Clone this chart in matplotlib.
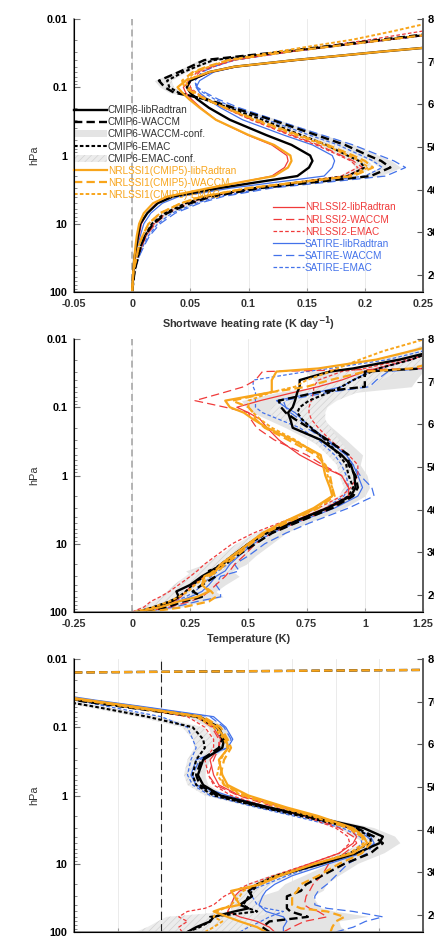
import numpy as np
import matplotlib
matplotlib.use("Agg")
import matplotlib.pyplot as plt
from matplotlib.lines import Line2D
from matplotlib.patches import Patch

plt.rcParams['font.family'] = ['Liberation Sans', 'DejaVu Sans']
plt.rcParams['lines.scale_dashes'] = False
plt.rcParams['hatch.linewidth'] = 0.5

# ---------------- panel 1: shortwave heating rate (K/day) ----------------
p1_levels = [100, 50, 30, 20, 15, 10, 7, 5, 4, 3, 2, 1.5, 1.2, 1, 0.7, 0.5, 0.3, 0.2, 0.15, 0.12,
             0.1, 0.08, 0.06, 0.05, 0.04, 0.03, 0.02, 0.015, 0.01]
p1_cmip6_lib = [0, 0.001, 0.002, 0.004, 0.005, 0.007, 0.013, 0.022, 0.035, 0.075, 0.142, 0.152, 0.155, 0.153,
                0.137, 0.115, 0.084, 0.066, 0.056, 0.05, 0.047, 0.05, 0.066, 0.088, 0.14, 0.215, 0.33, 0.4, 0.5]
p1_cmip6_waccm = [0, 0.002, 0.005, 0.008, 0.011, 0.018, 0.03, 0.05, 0.068, 0.11, 0.205, 0.222, 0.214, 0.203,
                  0.183, 0.158, 0.12, 0.087, 0.064, 0.036, 0.028, 0.023, 0.04, 0.05, 0.062, 0.13, 0.215, 0.275, 0.36]
p1_cmip6_emac = [0, 0.002, 0.005, 0.008, 0.011, 0.017, 0.028, 0.046, 0.064, 0.105, 0.185, 0.2, 0.195, 0.185,
                 0.167, 0.145, 0.112, 0.083, 0.062, 0.04, 0.032, 0.03, 0.044, 0.055, 0.07, 0.133, 0.22, 0.28, 0.37]
p1_nrl1_lib = [0, 0.001, 0.002, 0.003, 0.004, 0.006, 0.01, 0.018, 0.03, 0.066, 0.122, 0.134, 0.137, 0.136,
               0.122, 0.1, 0.072, 0.058, 0.049, 0.043, 0.039, 0.046, 0.066, 0.088, 0.14, 0.215, 0.33, 0.4, 0.5]
p1_nrl1_waccm = [0, 0.001, 0.004, 0.006, 0.009, 0.014, 0.024, 0.042, 0.06, 0.1, 0.19, 0.207, 0.2, 0.19,
                 0.168, 0.143, 0.107, 0.08, 0.063, 0.052, 0.045, 0.043, 0.052, 0.064, 0.083, 0.135, 0.22, 0.28, 0.37]
p1_nrl1_emac = [0, 0.001, 0.004, 0.006, 0.009, 0.014, 0.024, 0.042, 0.06, 0.1, 0.187, 0.203, 0.196, 0.186,
                0.165, 0.14, 0.105, 0.08, 0.064, 0.054, 0.048, 0.046, 0.054, 0.066, 0.083, 0.125, 0.19, 0.225, 0.27]
p1_nrl2_lib = [0, 0.001, 0.003, 0.004, 0.006, 0.008, 0.013, 0.021, 0.033, 0.068, 0.12, 0.131, 0.134, 0.133,
               0.12, 0.099, 0.072, 0.059, 0.051, 0.046, 0.044, 0.05, 0.068, 0.09, 0.142, 0.215, 0.33, 0.4, 0.5]
p1_nrl2_waccm = [0, 0.002, 0.005, 0.009, 0.012, 0.02, 0.03, 0.05, 0.068, 0.108, 0.185, 0.198, 0.19, 0.18,
                 0.16, 0.137, 0.103, 0.079, 0.064, 0.054, 0.048, 0.048, 0.056, 0.068, 0.086, 0.137, 0.222, 0.285, 0.37]
p1_nrl2_emac = [0, 0.002, 0.005, 0.009, 0.012, 0.019, 0.029, 0.048, 0.066, 0.105, 0.18, 0.194, 0.188, 0.178,
                0.158, 0.135, 0.102, 0.079, 0.064, 0.055, 0.05, 0.05, 0.058, 0.07, 0.088, 0.135, 0.205, 0.25, 0.3]
p1_sat_lib = [0, 0.001, 0.003, 0.005, 0.007, 0.01, 0.016, 0.026, 0.04, 0.085, 0.165, 0.172, 0.174, 0.172,
              0.155, 0.13, 0.095, 0.076, 0.065, 0.058, 0.055, 0.058, 0.07, 0.09, 0.142, 0.215, 0.33, 0.4, 0.5]
p1_sat_waccm = [0, 0.002, 0.006, 0.011, 0.015, 0.024, 0.037, 0.058, 0.078, 0.12, 0.218, 0.235, 0.225, 0.213,
                0.19, 0.163, 0.123, 0.092, 0.074, 0.063, 0.056, 0.054, 0.06, 0.07, 0.088, 0.137, 0.222, 0.285, 0.37]
p1_sat_emac = [0, 0.002, 0.006, 0.01, 0.014, 0.022, 0.034, 0.055, 0.074, 0.115, 0.2, 0.215, 0.207, 0.197,
               0.177, 0.152, 0.116, 0.088, 0.071, 0.061, 0.055, 0.054, 0.06, 0.07, 0.088, 0.137, 0.222, 0.285, 0.37]
p1_conf_waccm = [0, 0.001, 0.001, 0.002, 0.002, 0.003, 0.003, 0.004, 0.005, 0.006, 0.008, 0.009, 0.009, 0.009,
                 0.008, 0.007, 0.006, 0.005, 0.004, 0.004, 0.004, 0.004, 0.004, 0.004, 0.005, 0.006, 0.007, 0.008, 0.009]
p1_conf_emac = [0, 0.001, 0.001, 0.002, 0.002, 0.003, 0.003, 0.004, 0.005, 0.006, 0.007, 0.008, 0.008, 0.008,
                0.007, 0.006, 0.005, 0.004, 0.004, 0.004, 0.004, 0.004, 0.004, 0.004, 0.005, 0.006, 0.007, 0.008, 0.009]

# ---------------- panel 2: temperature (K) ----------------
p2_levels = [100, 85, 70, 60, 50, 40, 30, 25, 20, 15, 10, 7, 5, 3, 2, 1.5, 1, 0.7, 0.5, 0.3, 0.2, 0.15,
             0.12, 0.1, 0.08, 0.06, 0.05, 0.04, 0.03, 0.027, 0.02, 0.015, 0.01]
p2_cmip6_lib = [0.03, 0.1, 0.17, 0.2, 0.19, 0.25, 0.3, 0.34, 0.39, 0.43, 0.5, 0.57, 0.68, 0.84, 0.94, 0.96, 0.955,
                0.94, 0.9, 0.81, 0.69, 0.68, 0.67, 0.69, 0.7, 0.71, 0.72, 0.72, 0.85, 0.95, 1.15, 1.3, 1.5]
p2_cmip6_waccm = [0.06, 0.15, 0.22, 0.3, 0.26, 0.3, 0.36, 0.33, 0.4, 0.45, 0.53, 0.6, 0.7, 0.86, 0.95, 0.97, 0.96,
                  0.93, 0.93, 0.84, 0.76, 0.7, 0.66, 0.64, 0.63, 0.8, 1.0, 1.0, 1.0, 1.25, 1.4, 1.5, 1.6]
p2_cmip6_emac = [0.02, 0.09, 0.16, 0.2, 0.23, 0.26, 0.31, 0.34, 0.38, 0.43, 0.5, 0.58, 0.68, 0.84, 0.93, 0.95, 0.93,
                 0.92, 0.89, 0.83, 0.77, 0.73, 0.71, 0.72, 0.76, 0.85, 0.9, 0.95, 1.03, 1.06, 1.2, 1.3, 1.45]
p2_nrl1_lib = [0.02, 0.12, 0.2, 0.28, 0.33, 0.3, 0.31, 0.36, 0.38, 0.43, 0.5, 0.56, 0.64, 0.78, 0.86, 0.85, 0.83,
               0.82, 0.81, 0.69, 0.58, 0.52, 0.48, 0.42, 0.4, 0.6, 0.6, 0.6, 0.62, 0.8, 1.05, 1.2, 1.4]
p2_nrl1_waccm = [0.065, 0.22, 0.33, 0.36, 0.34, 0.3, 0.33, 0.37, 0.4, 0.45, 0.51, 0.57, 0.66, 0.8, 0.87, 0.86, 0.85,
                 0.83, 0.79, 0.67, 0.57, 0.53, 0.52, 0.5, 0.43, 0.6, 0.75, 0.85, 1.0, 1.2, 1.35, 1.45, 1.55]
p2_nrl1_emac = [0.01, 0.09, 0.16, 0.2, 0.24, 0.27, 0.32, 0.35, 0.39, 0.44, 0.5, 0.56, 0.65, 0.79, 0.86, 0.86, 0.84,
                0.83, 0.8, 0.7, 0.6, 0.55, 0.52, 0.5, 0.5, 0.6, 0.7, 0.75, 0.85, 0.88, 0.98, 1.08, 1.26]
p2_nrl2_lib = [0.03, 0.1, 0.18, 0.21, 0.23, 0.26, 0.31, 0.35, 0.38, 0.43, 0.5, 0.57, 0.67, 0.83, 0.93, 0.93, 0.9,
               0.8, 0.72, 0.63, 0.58, 0.55, 0.5, 0.45, 0.55, 0.7, 0.8, 0.9, 1.0, 1.05, 1.2, 1.3, 1.45]
p2_nrl2_waccm = [0.05, 0.16, 0.25, 0.3, 0.33, 0.36, 0.4, 0.42, 0.44, 0.48, 0.53, 0.6, 0.7, 0.86, 0.93, 0.93, 0.9,
                 0.82, 0.75, 0.61, 0.535, 0.51, 0.5, 0.4, 0.27, 0.4, 0.48, 0.53, 0.56, 1.26, 1.35, 1.45, 1.5]
p2_nrl2_emac = [0.0, 0.05, 0.08, 0.12, 0.16, 0.2, 0.25, 0.28, 0.31, 0.36, 0.43, 0.52, 0.63, 0.8, 0.9, 0.94, 0.97,
                0.97, 0.93, 0.85, 0.8, 0.77, 0.76, 0.76, 0.77, 0.78, 0.78, 0.8, 0.9, 1.0, 1.17, 1.3, 1.45]
p2_sat_lib = [0.03, 0.12, 0.2, 0.25, 0.3, 0.33, 0.36, 0.4, 0.42, 0.46, 0.52, 0.6, 0.7, 0.87, 0.97, 0.99, 0.97,
              0.95, 0.92, 0.84, 0.77, 0.73, 0.7, 0.66, 0.62, 0.8, 0.9, 0.95, 1.02, 1.06, 1.2, 1.3, 1.45]
p2_sat_waccm = [0.04, 0.18, 0.28, 0.38, 0.38, 0.36, 0.38, 0.46, 0.44, 0.5, 0.57, 0.66, 0.76, 0.93, 1.04, 1.03, 0.98,
                0.95, 0.92, 0.83, 0.75, 0.72, 0.68, 0.66, 0.65, 0.85, 1.02, 1.05, 1.1, 1.25, 1.4, 1.5, 1.6]
p2_sat_emac = [0.02, 0.1, 0.18, 0.23, 0.27, 0.3, 0.34, 0.37, 0.41, 0.45, 0.51, 0.58, 0.68, 0.83, 0.91, 0.93, 0.92,
               0.9, 0.87, 0.8, 0.72, 0.63, 0.56, 0.53, 0.53, 0.53, 0.52, 0.52, 0.75, 0.85, 1.1, 1.25, 1.4]
p2_conf_waccm = [0.03, 0.06, 0.08, 0.09, 0.1, 0.1, 0.1, 0.1, 0.09, 0.08, 0.07, 0.06, 0.05, 0.05, 0.05, 0.05, 0.05,
                 0.05, 0.06, 0.08, 0.1, 0.12, 0.14, 0.15, 0.16, 0.17, 0.2, 0.22, 0.25, 0.25, 0.25, 0.25, 0.25]
p2_conf_emac = [0.03, 0.05, 0.07, 0.08, 0.08, 0.08, 0.08, 0.08, 0.07, 0.06, 0.05, 0.05, 0.04, 0.04, 0.04, 0.04, 0.04,
                0.04, 0.05, 0.06, 0.08, 0.1, 0.12, 0.12, 0.12, 0.12, 0.12, 0.12, 0.12, 0.12, 0.12, 0.12, 0.12]

# ---------------- panel 3 ----------------
p3_levels = [100, 85, 70, 60, 50, 45, 40, 30, 25, 20, 15, 10, 7, 5, 4, 3, 2, 1.5, 1, 0.7, 0.5, 0.3, 0.2,
             0.15, 0.1, 0.07, 0.05, 0.04, 0.03, 0.0175, 0.013, 0.01]
p3_cmip6_lib = [0.15, 0.2, 0.28, 0.3, 0.42, 0.5, 0.45, 0.52, 0.5, 0.55, 0.66, 0.92, 1.12, 1.25, 1.27, 1.16, 0.85,
                0.62, 0.34, 0.24, 0.21, 0.24, 0.35, 0.36, 0.33, 0.22, -0.19, -0.47, -0.8, -1.5, -2.0, -2.5]
p3_cmip6_waccm = [0.62, 0.58, 0.62, 0.84, 0.74, 0.72, 0.72, 0.72, 0.8, 0.83, 0.92, 1.05, 1.2, 1.27, 1.22, 1.12, 0.83,
                  0.6, 0.32, 0.22, 0.2, 0.23, 0.33, 0.35, 0.32, 0.2, -0.22, -0.5, -1.0, -3.0, 4.0, 4.0]
p3_cmip6_emac = [0.15, 0.22, 0.28, 0.28, 0.55, 0.5, 0.47, 0.5, 0.52, 0.56, 0.68, 0.9, 1.08, 1.2, 1.2, 1.1, 0.8,
                 0.58, 0.3, 0.2, 0.18, 0.2, 0.25, 0.24, 0.18, -0.08, -0.38, -0.6, -0.9, -1.5, -2.0, -2.5]
p3_nrl1_lib = [0.6, 0.55, 0.45, 0.38, 0.3, 0.35, 0.45, 0.42, 0.4, 0.57, 0.68, 0.88, 1.1, 1.18, 1.16, 1.1, 0.9,
               0.72, 0.5, 0.38, 0.35, 0.33, 0.385, 0.37, 0.32, 0.22, -0.15, -0.42, -0.75, -1.5, -2.0, -2.5]
p3_nrl1_waccm = [0.97, 0.98, 1.0, 1.05, 0.95, 0.8, 0.75, 0.75, 0.78, 0.8, 0.9, 1.02, 1.15, 1.2, 1.15, 1.08, 0.88,
                 0.7, 0.48, 0.36, 0.34, 0.36, 0.4, 0.38, 0.34, 0.24, -0.18, -0.45, -1.0, -3.0, 4.0, 4.0]
p3_nrl1_emac = [0.25, 0.3, 0.35, 0.3, 0.32, 0.36, 0.4, 0.45, 0.47, 0.55, 0.66, 0.88, 1.08, 1.16, 1.15, 1.07, 0.86,
                0.68, 0.46, 0.36, 0.32, 0.34, 0.38, 0.36, 0.3, 0.2, -0.2, -0.45, -0.8, -1.5, -2.0, -2.5]
p3_nrl2_lib = [0.65, 0.62, 0.55, 0.45, 0.38, 0.39, 0.4, 0.42, 0.45, 0.55, 0.66, 0.85, 1.02, 1.1, 1.12, 1.08, 0.87,
               0.7, 0.45, 0.33, 0.3, 0.28, 0.33, 0.34, 0.3, 0.2, -0.18, -0.45, -0.8, -1.5, -2.0, -2.5]
p3_nrl2_waccm = [0.7, 0.75, 0.82, 0.95, 0.9, 0.85, 0.82, 0.83, 0.85, 0.87, 0.92, 0.96, 1.05, 1.12, 1.1, 1.02, 0.84,
                 0.66, 0.44, 0.31, 0.27, 0.3, 0.33, 0.33, 0.29, 0.2, -0.18, -0.45, -1.0, -1.5, -2.0, -2.5]
p3_nrl2_emac = [0.12, 0.1, 0.15, 0.1, 0.15, 0.25, 0.3, 0.36, 0.42, 0.5, 0.64, 0.85, 1.02, 1.08, 1.07, 1.0, 0.82,
                0.62, 0.4, 0.3, 0.27, 0.25, 0.3, 0.3, 0.25, 0.15, -0.2, -0.45, -0.8, -1.5, -2.0, -2.5]
p3_sat_lib = [0.7, 0.7, 0.72, 0.7, 0.6, 0.58, 0.56, 0.58, 0.6, 0.65, 0.75, 0.96, 1.15, 1.22, 1.2, 1.12, 0.82,
              0.62, 0.38, 0.2, 0.17, 0.2, 0.38, 0.41, 0.37, 0.3, -0.1, -0.38, -0.7, -1.5, -2.0, -2.5]
p3_sat_waccm = [1.0, 1.1, 1.17, 1.27, 1.1, 0.95, 0.88, 0.88, 0.9, 0.95, 1.0, 1.07, 1.18, 1.22, 1.18, 1.08, 0.8,
                0.58, 0.33, 0.2, 0.18, 0.22, 0.38, 0.4, 0.36, 0.28, -0.12, -0.4, -1.0, -1.5, -2.0, -2.5]
p3_sat_emac = [0.45, 0.5, 0.57, 0.62, 0.7, 0.6, 0.55, 0.52, 0.5, 0.6, 0.72, 0.92, 1.1, 1.15, 1.14, 1.04, 0.76,
               0.55, 0.28, 0.18, 0.15, 0.17, 0.2, 0.18, 0.15, 0.0, -0.3, -0.5, -0.85, -1.5, -2.0, -2.5]
p3_conf_waccm = [0.45, 0.45, 0.4, 0.35, 0.25, 0.2, 0.18, 0.15, 0.13, 0.12, 0.1, 0.08, 0.08, 0.1, 0.12, 0.1, 0.06,
                 0.05, 0.05, 0.05, 0.05, 0.05, 0.05, 0.05, 0.05, 0.05, 0.05, 0.05, 0.05, 0, 0, 0]
p3_conf_emac = [0.3, 0.3, 0.3, 0.25, 0.15, 0.1, 0.08, 0.08, 0.07, 0.07, 0.06, 0.05, 0.05, 0.05, 0.05, 0.05, 0.05,
                0.05, 0.05, 0.05, 0.05, 0.05, 0.06, 0.06, 0.06, 0.06, 0.06, 0.06, 0.06, 0, 0, 0]

p1_xticks = [-0.05, 0, 0.05, 0.1, 0.15, 0.2, 0.25]
p1_xlabels = ['-0.05', '0', '0.05', '0.1', '0.15', '0.2', '0.25']
p2_xticks = [-0.25, 0, 0.25, 0.5, 0.75, 1, 1.25]
p2_xlabels = ['-0.25', '0', '0.25', '0.5', '0.75', '1', '1.25']
# the bottom panel's tick labels fall below the picture's edge, only the grid is kept
p3_xticks = [-0.5, -0.25, 0, 0.25, 0.5, 0.75, 1, 1.25, 1.5]
p3_xlabels = [''] * len(p3_xticks)
p_ticks = [100, 10, 1, 0.1, 0.01]
p_ticklabels = ['100', '10', '1', '0.1', '0.01']
km_ticks = [20, 30, 40, 50, 60, 70, 80]

BLACK = '#000000'
ORANGE = '#f8a51b'
RED = '#f03a3a'
BLUE = '#4372ea'
DARK = '#333333'
LONG = (0, (6, 3))
SHORT = (0, (2.6, 1.6))


def series_list(d):
    # order of drawing: blue, red, black, orange on top
    return [
        (d['sat_lib'], BLUE, '-', 0.9), (d['sat_waccm'], BLUE, LONG, 0.9), (d['sat_emac'], BLUE, SHORT, 0.9),
        (d['nrl2_lib'], RED, '-', 0.9), (d['nrl2_waccm'], RED, LONG, 0.9), (d['nrl2_emac'], RED, SHORT, 0.9),
        (d['cmip6_lib'], BLACK, '-', 1.7), (d['cmip6_waccm'], BLACK, LONG, 1.7), (d['cmip6_emac'], BLACK, SHORT, 1.5),
        (d['nrl1_lib'], ORANGE, '-', 1.6), (d['nrl1_waccm'], ORANGE, LONG, 1.6), (d['nrl1_emac'], ORANGE, SHORT, 1.4),
    ]


def draw_panel(ax, levels, d, conf_w, conf_e, xlim, xticks, xlabels, xlabel, zero_style):
    lev = np.array(levels)
    w = np.array(d['cmip6_waccm'])
    e = np.array(d['cmip6_emac'])
    cw = np.array(conf_w)
    ce = np.array(conf_e)
    ax.fill_betweenx(lev, w - cw, w + cw, color='#e4e4e4', lw=0, zorder=1)
    ax.fill_betweenx(lev, e - ce, e + ce, facecolor='#ececec', edgecolor='#d2d2d2', hatch='/////', lw=0, zorder=1)
    ax.axvline(0, zorder=1.5, **zero_style)
    for vals, col, ls, lw in series_list(d):
        ax.plot(vals, levels, color=col, ls=ls, lw=lw, zorder=2)

    ax.set_yscale('log')
    ax.set_ylim(100, 0.01)
    ax.set_xlim(xlim)
    ax.set_yticks(p_ticks)
    ax.set_yticklabels(p_ticklabels, fontweight='bold', fontsize=7.8)
    ax.set_xticks(xticks)
    ax.set_xticklabels(xlabels, fontweight='bold', fontsize=7.8, color=DARK)
    ax.tick_params(axis='y', which='major', direction='in', length=4, pad=5, color='#777777')
    ax.tick_params(axis='y', which='minor', direction='in', length=2, color='#777777')
    ax.tick_params(axis='x', direction='in', length=3, pad=5, color='#999999')
    ax.grid(axis='x', color='#e8e8e8', lw=0.6, zorder=0)
    ax.set_axisbelow(True)
    ax.set_ylabel('hPa', fontsize=7.8, labelpad=5, color=DARK)
    if xlabel:
        ax.set_xlabel(xlabel, fontweight='bold', fontsize=7.8, color=DARK, labelpad=4)
    ax.spines['top'].set_visible(False)
    for s in ('left', 'bottom', 'right'):
        ax.spines[s].set_color('#808080')
        ax.spines[s].set_linewidth(1.2)

    tw = ax.twinx()
    tw.set_ylim(16, 80)
    tw.set_yticks(km_ticks)
    tw.set_yticklabels([str(k) for k in km_ticks], fontweight='bold', fontsize=7.8)
    tw.tick_params(axis='y', direction='in', length=4, pad=3, color='#555555')
    tw.spines['top'].set_visible(False)
    tw.spines['right'].set_color('#555555')
    tw.spines['right'].set_linewidth(1.2)
    return ax


fig = plt.figure(figsize=(4.35, 9.36), dpi=100)
L, W, H = 74 / 435, 349 / 435, 273 / 936
ax1 = fig.add_axes([L, (936 - 292) / 936, W, H])
ax2 = fig.add_axes([L, (936 - 612) / 936, W, H])
ax3 = fig.add_axes([L, (936 - 932) / 936, W, H])

d1 = dict(cmip6_lib=p1_cmip6_lib, cmip6_waccm=p1_cmip6_waccm, cmip6_emac=p1_cmip6_emac,
          nrl1_lib=p1_nrl1_lib, nrl1_waccm=p1_nrl1_waccm, nrl1_emac=p1_nrl1_emac,
          nrl2_lib=p1_nrl2_lib, nrl2_waccm=p1_nrl2_waccm, nrl2_emac=p1_nrl2_emac,
          sat_lib=p1_sat_lib, sat_waccm=p1_sat_waccm, sat_emac=p1_sat_emac)
d2 = dict(cmip6_lib=p2_cmip6_lib, cmip6_waccm=p2_cmip6_waccm, cmip6_emac=p2_cmip6_emac,
          nrl1_lib=p2_nrl1_lib, nrl1_waccm=p2_nrl1_waccm, nrl1_emac=p2_nrl1_emac,
          nrl2_lib=p2_nrl2_lib, nrl2_waccm=p2_nrl2_waccm, nrl2_emac=p2_nrl2_emac,
          sat_lib=p2_sat_lib, sat_waccm=p2_sat_waccm, sat_emac=p2_sat_emac)
d3 = dict(cmip6_lib=p3_cmip6_lib, cmip6_waccm=p3_cmip6_waccm, cmip6_emac=p3_cmip6_emac,
          nrl1_lib=p3_nrl1_lib, nrl1_waccm=p3_nrl1_waccm, nrl1_emac=p3_nrl1_emac,
          nrl2_lib=p3_nrl2_lib, nrl2_waccm=p3_nrl2_waccm, nrl2_emac=p3_nrl2_emac,
          sat_lib=p3_sat_lib, sat_waccm=p3_sat_waccm, sat_emac=p3_sat_emac)

gray_zero = dict(color='#a8a8a8', ls=(0, (5, 3)), lw=1.2)
black_zero = dict(color='#222222', ls=(0, (6, 3)), lw=0.8)

draw_panel(ax1, p1_levels, d1, p1_conf_waccm, p1_conf_emac, (-0.05, 0.25), p1_xticks, p1_xlabels,
           'Shortwave heating rate (K day$^{\\mathbf{-1}}$)', gray_zero)
draw_panel(ax2, p2_levels, d2, p2_conf_waccm, p2_conf_emac, (-0.25, 1.25), p2_xticks, p2_xlabels,
           'Temperature (K)', gray_zero)
draw_panel(ax3, p3_levels, d3, p3_conf_waccm, p3_conf_emac, (-0.5, 1.5), p3_xticks, p3_xlabels,
           None, black_zero)

# legends in the top panel
h_left = [
    Line2D([], [], color=BLACK, ls='-', lw=1.7),
    Line2D([], [], color=BLACK, ls=LONG, lw=1.7),
    Patch(facecolor='#e4e4e4', edgecolor='none'),
    Line2D([], [], color=BLACK, ls=SHORT, lw=1.5),
    Patch(facecolor='#ececec', edgecolor='#d2d2d2', hatch='/////', lw=0),
    Line2D([], [], color=ORANGE, ls='-', lw=1.6),
    Line2D([], [], color=ORANGE, ls=LONG, lw=1.6),
    Line2D([], [], color=ORANGE, ls=SHORT, lw=1.4),
]
t_left = ['CMIP6-libRadtran', 'CMIP6-WACCM', 'CMIP6-WACCM-conf.', 'CMIP6-EMAC', 'CMIP6-EMAC-conf.',
          'NRLSSI1(CMIP5)-libRadtran', 'NRLSSI1(CMIP5)-WACCM', 'NRLSSI1(CMIP5)-EMAC']
c_left = [DARK] * 5 + [ORANGE] * 3
leg1 = ax1.legend(h_left, t_left, loc='upper left', bbox_to_anchor=(0.0, 0.684), frameon=False,
                  fontsize=7.2, handlelength=3.3, handletextpad=0.1, labelspacing=0.21,
                  borderaxespad=0, borderpad=0)
for t, c in zip(leg1.get_texts(), c_left):
    t.set_color(c)
ax1.add_artist(leg1)

h_right = [
    Line2D([], [], color=RED, ls='-', lw=0.9),
    Line2D([], [], color=RED, ls=LONG, lw=0.9),
    Line2D([], [], color=RED, ls=SHORT, lw=0.9),
    Line2D([], [], color=BLUE, ls='-', lw=0.9),
    Line2D([], [], color=BLUE, ls=LONG, lw=0.9),
    Line2D([], [], color=BLUE, ls=SHORT, lw=0.9),
]
t_right = ['NRLSSI2-libRadtran', 'NRLSSI2-WACCM', 'NRLSSI2-EMAC', 'SATIRE-libRadtran', 'SATIRE-WACCM',
           'SATIRE-EMAC']
c_right = [RED] * 3 + [BLUE] * 3
leg2 = ax1.legend(h_right, t_right, loc='upper left', bbox_to_anchor=(0.57, 0.328), frameon=False,
                  fontsize=7.2, handlelength=3.1, handletextpad=0.1, labelspacing=0.21,
                  borderaxespad=0, borderpad=0)
for t, c in zip(leg2.get_texts(), c_right):
    t.set_color(c)

fig.savefig('out.png', dpi=100)
